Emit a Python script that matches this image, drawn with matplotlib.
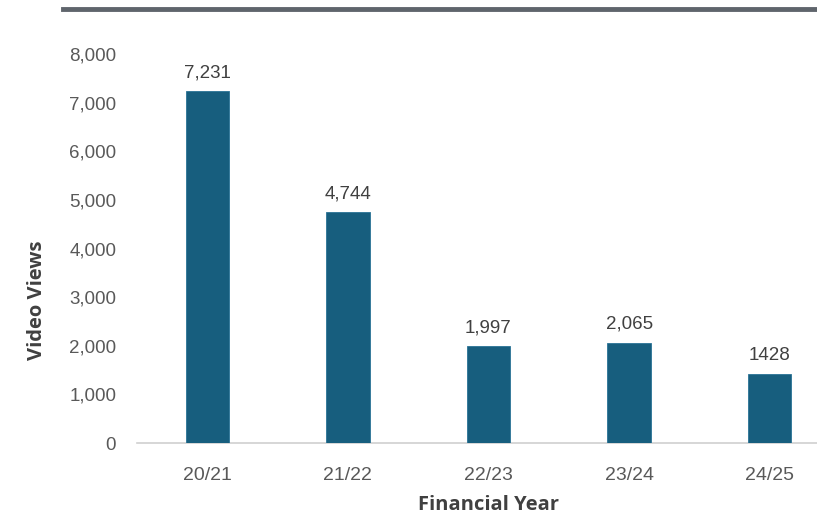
import matplotlib.pyplot as plt
from matplotlib.lines import Line2D

years = ["20/21", "21/22", "22/23", "23/24", "24/25"]
views = [7231, 4744, 1997, 2065, 1428]
value_labels = ["7,231", "4,744", "1,997", "2,065", "1428"]

W, H = 817, 518
fig = plt.figure(figsize=(W / 100, H / 100), dpi=100)

# axes run past the right edge, like the cropped original
ax = fig.add_axes([137 / W, 75 / H, 703 / W, 389 / H])
x = range(len(years))
ax.bar(x, views, width=0.31, color="#175e7e", edgecolor="#2a7396", linewidth=0.6, zorder=3)

for i, v in enumerate(views):
    ax.text(i, v + 200, value_labels[i], ha="center", va="bottom",
            fontsize=13.5, color="#404040", family="Liberation Sans")

ax.set_xlim(-0.5, 4.5)
ax.set_ylim(0, 8000)
ax.set_yticks(range(0, 8001, 1000))
ax.set_yticklabels([f"{t:,}" for t in range(0, 8001, 1000)],
                   fontsize=13.5, color="#595959", family="Liberation Sans")
ax.set_xticks(list(x))
ax.set_xticklabels(years, fontsize=14, color="#595959", family="Liberation Sans")
ax.tick_params(axis="both", length=0)
ax.tick_params(axis="y", pad=15)
ax.tick_params(axis="x", pad=17)

for s in ["top", "right", "left"]:
    ax.spines[s].set_visible(False)
ax.spines["bottom"].set_color("#d0d0d0")
ax.spines["bottom"].set_linewidth(1.2)

fig.text(37 / W, 1 - 300 / H, "Video Views", rotation=90, ha="center", va="center",
         fontsize=14.5, fontweight="bold", color="#404040", family="Open Sans")
fig.text(488 / W, 1 - 505 / H, "Financial Year", ha="center", va="center",
         fontsize=14.5, fontweight="bold", color="#404040", family="Open Sans")

# grey rule across the top
fig.add_artist(Line2D([63 / W, 1.0], [1 - 9 / H, 1 - 9 / H], color="#5f656c",
                      linewidth=3.5, transform=fig.transFigure))

fig.savefig("out.png", dpi=100)
